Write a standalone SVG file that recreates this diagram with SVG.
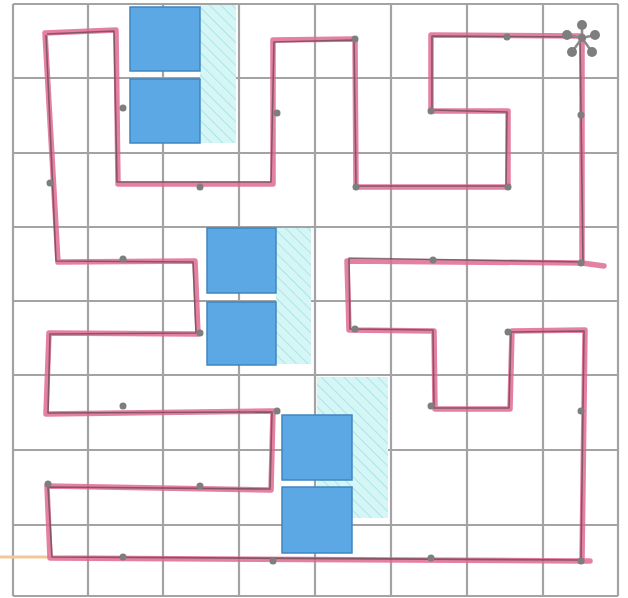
<svg xmlns="http://www.w3.org/2000/svg" width="628" height="598" viewBox="0 0 628 598">
  <defs>
    <pattern id="hatch" patternUnits="userSpaceOnUse" width="8" height="8" patternTransform="rotate(-45)">
      <rect width="8" height="8" fill="#d6f6f6"/>
      <line x1="0" y1="0" x2="0" y2="8" stroke="#a6e6ec" stroke-width="2"/>
    </pattern>
  </defs>
  <style>
    .grid line { stroke: #a3a3a3; stroke-width: 2.2; }
    .shade { fill: url(#hatch); }
    .block { fill: #5ba8e4; stroke: #3f86c0; stroke-width: 1.5; }
    .route { fill: none; stroke: #df6a8f; stroke-width: 5.5; stroke-linejoin: round; stroke-linecap: round; opacity: 0.85; }
    .pencil { fill: none; stroke: #4a3a40; stroke-width: 1.6; stroke-linejoin: round; opacity: 0.6; }
    .dot { fill: #7e7e7e; }
    .star line { stroke: #8a8a8a; stroke-width: 2.5; }
  </style>
  <rect width="628" height="598" fill="#ffffff"/>

  <g class="grid" id="grid">
    <line x1="13" y1="4" x2="13" y2="596"/>
    <line x1="88" y1="4" x2="88" y2="596"/>
    <line x1="163" y1="4" x2="163" y2="596"/>
    <line x1="239" y1="4" x2="239" y2="596"/>
    <line x1="315" y1="4" x2="315" y2="596"/>
    <line x1="391" y1="4" x2="391" y2="596"/>
    <line x1="467" y1="4" x2="467" y2="596"/>
    <line x1="543" y1="4" x2="543" y2="596"/>
    <line x1="618" y1="4" x2="618" y2="596"/>
    <line x1="13" y1="4" x2="618" y2="4"/>
    <line x1="13" y1="78" x2="618" y2="78"/>
    <line x1="13" y1="153" x2="618" y2="153"/>
    <line x1="13" y1="227" x2="618" y2="227"/>
    <line x1="13" y1="301" x2="618" y2="301"/>
    <line x1="13" y1="375" x2="618" y2="375"/>
    <line x1="13" y1="450" x2="618" y2="450"/>
    <line x1="13" y1="525" x2="618" y2="525"/>
    <line x1="13" y1="596" x2="618" y2="596"/>
  </g>

  <g id="shading">
    <rect class="shade" x="200" y="5" width="36" height="138"/>
    <rect class="shade" x="276" y="228" width="35" height="136"/>
    <rect class="shade" x="317" y="377" width="71" height="141"/>
  </g>

  <g id="pair1">
    <rect class="block" x="130" y="7" width="70" height="64"/>
    <rect class="block" x="130" y="79" width="70" height="64"/>
  </g>
  <g id="pair2">
    <rect class="block" x="207" y="228" width="69" height="65"/>
    <rect class="block" x="207" y="302" width="69" height="63"/>
  </g>
  <g id="pair3">
    <rect class="block" x="282" y="415" width="70" height="65"/>
    <rect class="block" x="282" y="487" width="70" height="66"/>
  </g>

  <g id="connectors">
    <line x1="0" y1="557" x2="50" y2="557" stroke="#f3c79c" stroke-width="3"/>
    <path class="route" d="M45,33 L116,30 L118,184 L273,184 L273,40 L355,39 L356,187 L508,187 L508,111 L431,111 L431,35 L582,36 L582,263 L347,261 L349,330 L434,331 L435,409 L510,409 L512,331 L585,330 L582,561 L50,558 L47,486 L271,490 L273,411 L46,414 L49,333 L198,334 L195,261 L58,262 L45,33"/>
    <path class="route" d="M582,263 L604,266"/>
    <path class="route" d="M582,561 L590,561"/>
    <path class="pencil" d="M47,34 L114,31 L117,182 L271,182 L274,42 L354,40 L356,186 L506,186 L507,112 L432,110 L432,36 L580,37 L583,262 L349,258 L350,329 L433,330 L434,408 L509,408 L511,332 L584,331 L581,560 L52,557 L48,487 L270,489 L272,412 L48,413 L50,334 L196,333 L193,262 L56,261 L46,35"/>
  </g>

  <g id="dots">
    <circle class="dot" cx="355" cy="39" r="3.5"/>
    <circle class="dot" cx="507" cy="37" r="3.5"/>
    <circle class="dot" cx="123" cy="108" r="3.5"/>
    <circle class="dot" cx="277" cy="113" r="3.5"/>
    <circle class="dot" cx="431" cy="111" r="3.5"/>
    <circle class="dot" cx="581" cy="115" r="3.5"/>
    <circle class="dot" cx="50" cy="183" r="3.5"/>
    <circle class="dot" cx="200" cy="187" r="3.5"/>
    <circle class="dot" cx="356" cy="187" r="3.5"/>
    <circle class="dot" cx="508" cy="187" r="3.5"/>
    <circle class="dot" cx="123" cy="259" r="3.5"/>
    <circle class="dot" cx="433" cy="260" r="3.5"/>
    <circle class="dot" cx="581" cy="263" r="3.5"/>
    <circle class="dot" cx="200" cy="333" r="3.5"/>
    <circle class="dot" cx="355" cy="329" r="3.5"/>
    <circle class="dot" cx="508" cy="332" r="3.5"/>
    <circle class="dot" cx="123" cy="406" r="3.5"/>
    <circle class="dot" cx="277" cy="411" r="3.5"/>
    <circle class="dot" cx="431" cy="406" r="3.5"/>
    <circle class="dot" cx="581" cy="411" r="3.5"/>
    <circle class="dot" cx="48" cy="484" r="3.5"/>
    <circle class="dot" cx="200" cy="486" r="3.5"/>
    <circle class="dot" cx="123" cy="557" r="3.5"/>
    <circle class="dot" cx="273" cy="561" r="3.5"/>
    <circle class="dot" cx="431" cy="558" r="3.5"/>
    <circle class="dot" cx="581" cy="561" r="3.5"/>
  </g>

  <g id="start" class="star">
    <line x1="582" y1="38" x2="582" y2="25"/>
    <line x1="582" y1="38" x2="595" y2="35"/>
    <line x1="582" y1="38" x2="592" y2="52"/>
    <line x1="582" y1="38" x2="572" y2="52"/>
    <line x1="582" y1="38" x2="567" y2="35"/>
    <circle class="dot" cx="582" cy="38" r="4"/>
    <circle class="dot" cx="582" cy="25" r="5"/>
    <circle class="dot" cx="595" cy="35" r="5"/>
    <circle class="dot" cx="592" cy="52" r="5"/>
    <circle class="dot" cx="572" cy="52" r="5"/>
    <circle class="dot" cx="567" cy="35" r="5"/>
  </g>
</svg>
